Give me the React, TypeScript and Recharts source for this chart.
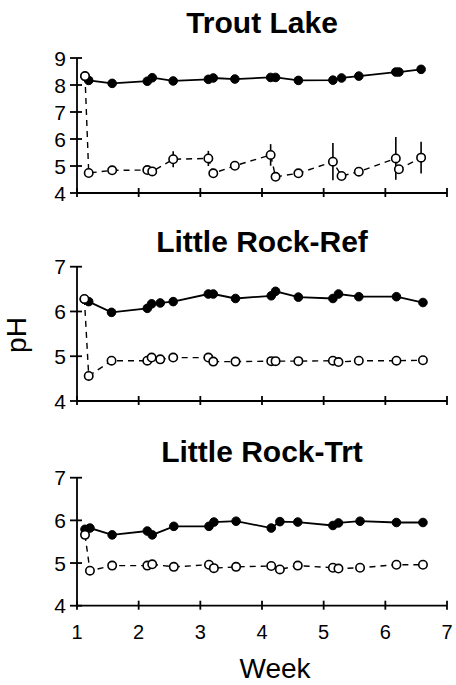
import React from 'react';
import { LineChart, Line, XAxis, YAxis, ErrorBar } from 'recharts';

// Week of each sampling date, per site
const troutWeeks = [1.13, 1.19, 1.57, 2.14, 2.22, 2.56, 3.13, 3.21, 3.56, 4.14, 4.22, 4.59, 5.15, 5.29, 5.57, 6.17, 6.22, 6.58];
const troutFilled = [8.32, 8.17, 8.06, 8.14, 8.27, 8.15, 8.21, 8.26, 8.22, 8.28, 8.28, 8.17, 8.18, 8.26, 8.33, 8.48, 8.48, 8.58];
const troutOpen = [8.33, 4.74, 4.84, 4.85, 4.8, 5.25, 5.28, 4.73, 5.01, 5.41, 4.6, 4.73, 5.16, 4.63, 4.79, 5.28, 4.88, 5.31];
const troutOpenErr = [0, 0.08, 0.05, 0.05, 0.05, 0.3, 0.28, 0.05, 0.1, 0.4, 0.05, 0.08, 0.69, 0.05, 0.05, 0.79, 0.1, 0.59];

const refWeeks = [1.12, 1.19, 1.56, 2.14, 2.21, 2.35, 2.56, 3.13, 3.21, 3.57, 4.15, 4.22, 4.59, 5.15, 5.24, 5.57, 6.18, 6.61];
const refFilled = [6.27, 6.22, 5.98, 6.07, 6.17, 6.19, 6.22, 6.39, 6.39, 6.29, 6.35, 6.45, 6.32, 6.29, 6.39, 6.33, 6.33, 6.2];
const refOpen = [6.28, 4.56, 4.9, 4.9, 4.97, 4.93, 4.97, 4.97, 4.88, 4.88, 4.89, 4.89, 4.89, 4.9, 4.87, 4.9, 4.9, 4.91];

const trtWeeks = [1.13, 1.21, 1.57, 2.14, 2.22, 2.57, 3.14, 3.22, 3.58, 4.15, 4.29, 4.58, 5.15, 5.24, 5.59, 6.18, 6.61];
const trtFilled = [5.79, 5.82, 5.66, 5.75, 5.66, 5.86, 5.86, 5.96, 5.98, 5.82, 5.97, 5.96, 5.88, 5.94, 5.98, 5.95, 5.95];
const trtOpen = [5.66, 4.82, 4.94, 4.94, 4.97, 4.91, 4.96, 4.88, 4.91, 4.93, 4.85, 4.94, 4.89, 4.87, 4.89, 4.96, 4.96];

const weekTicks = [1, 2, 3, 4, 5, 6, 7];
const troutTicks = [4, 5, 6, 7, 8, 9];
const lrTicks = [4, 5, 6, 7];

const FONT = '"Liberation Sans", Arial, sans-serif';

function rows(weeks: number[], filled: number[], open: number[], err?: number[]) {
  return weeks.map((w, i) => ({ week: w, filled: filled[i], open: open[i], err: err ? err[i] : 0 }));
}

const YTick = (props: any) => {
  const { x, y, payload } = props;
  return (
    <g>
      <line x1={x - 7} x2={x + 5} y1={y} y2={y} stroke="#000" strokeWidth={1.8} />
      <text x={x - 11} y={y + 7.5} textAnchor="end" fontSize={21} fontFamily={FONT} fill="#000">
        {payload.value}
      </text>
    </g>
  );
};

const makeXTick = (showLabel: boolean) => (props: any) => {
  const { x, y, payload } = props;
  return (
    <g>
      <line x1={x} x2={x} y1={y - 5} y2={y + 4} stroke="#000" strokeWidth={1.8} />
      {showLabel && (
        <text x={x} y={y + 33} textAnchor="middle" fontSize={20} fontFamily={FONT} fill="#000">
          {payload.value}
        </text>
      )}
    </g>
  );
};

interface PanelProps {
  top: number;
  height: number;
  marginTop: number;
  marginBottom: number;
  xAxisHeight: number;
  data: { week: number; filled: number; open: number; err: number }[];
  yTicks: number[];
  showErr?: boolean;
  showXLabels?: boolean;
}

function Panel({ top, height, marginTop, marginBottom, xAxisHeight, data, yTicks, showErr, showXLabels }: PanelProps) {
  return (
    <div style={{ position: 'absolute', left: 0, top, width: 456, height }}>
      <LineChart width={456} height={height} data={data} margin={{ top: marginTop, right: 9, bottom: marginBottom, left: 0 }}>
        <XAxis
          dataKey="week"
          type="number"
          domain={[1, 7]}
          ticks={weekTicks}
          height={xAxisHeight}
          tickSize={0}
          tickMargin={0}
          tickLine={false}
          axisLine={{ stroke: '#000', strokeWidth: 1.8 }}
          tick={makeXTick(!!showXLabels)}
          interval={0}
        />
        <YAxis
          type="number"
          domain={[yTicks[0], yTicks[yTicks.length - 1]]}
          ticks={yTicks}
          width={77}
          tickSize={0}
          tickMargin={0}
          tickLine={false}
          axisLine={{ stroke: '#000', strokeWidth: 1.8 }}
          tick={YTick}
          interval={0}
        />
        <Line
          dataKey="filled"
          type="linear"
          stroke="#000"
          strokeWidth={1.8}
          dot={{ r: 4.3, fill: '#000', stroke: '#000', strokeWidth: 1 }}
          activeDot={false}
          isAnimationActive={false}
        />
        <Line
          dataKey="open"
          type="linear"
          stroke="#000"
          strokeWidth={1.4}
          strokeDasharray="6 5"
          dot={{ r: 4.2, fill: '#fff', stroke: '#000', strokeWidth: 1.6, strokeDasharray: '' }}
          activeDot={false}
          isAnimationActive={false}
        >
          {showErr && (
            <ErrorBar dataKey="err" direction="y" width={0} stroke="#000" strokeWidth={1.6} isAnimationActive={false} />
          )}
        </Line>
      </LineChart>
    </div>
  );
}

export default function App() {
  return (
    <div style={{ position: 'absolute', left: 0, top: 0, width: 456, height: 685, background: '#fff' }}>
      <Panel
        top={0}
        height={215}
        marginTop={58}
        marginBottom={0}
        xAxisHeight={22}
        data={rows(troutWeeks, troutFilled, troutOpen, troutOpenErr)}
        yTicks={troutTicks}
        showErr
      />
      <Panel
        top={220}
        height={215}
        marginTop={46.7}
        marginBottom={12}
        xAxisHeight={22}
        data={rows(refWeeks, refFilled, refOpen)}
        yTicks={lrTicks}
      />
      <Panel
        top={430}
        height={255}
        marginTop={47.7}
        marginBottom={29.3}
        xAxisHeight={50}
        data={rows(trtWeeks, trtFilled, trtOpen)}
        yTicks={lrTicks}
        showXLabels
      />
      <svg width={456} height={685} style={{ position: 'absolute', left: 0, top: 0, pointerEvents: 'none' }}>
        <g fontFamily={FONT} fill="#000">
          <text x={262} y={33} textAnchor="middle" fontSize={30} fontWeight="bold">Trout Lake</text>
          <text x={262} y={252} textAnchor="middle" fontSize={30} fontWeight="bold">Little Rock-Ref</text>
          <text x={262} y={462} textAnchor="middle" fontSize={30} fontWeight="bold">Little Rock-Trt</text>
          <text x={26} y={335} textAnchor="middle" fontSize={28} transform="rotate(-90 26 335)">pH</text>
          <text x={275} y={678} textAnchor="middle" fontSize={28}>Week</text>
        </g>
      </svg>
    </div>
  );
}
